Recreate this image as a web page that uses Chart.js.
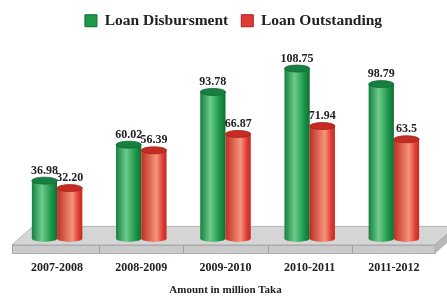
<!DOCTYPE html>
<html>
<head>
<meta charset="utf-8">
<script src="https://cdn.jsdelivr.net/npm/chart.js@4.4.1/dist/chart.umd.min.js"></script>
<style>
html,body{margin:0;padding:0;background:#fff;}
#wrap{width:447px;height:297px;}
</style>
</head>
<body>
<div id="wrap"><canvas id="c" width="447" height="297"></canvas></div>
<script>
const categories = ['2007-2008', '2008-2009', '2009-2010', '2010-2011', '2011-2012'];
const disbursement = [36.98, 60.02, 93.78, 108.75, 98.79];
const outstanding = [32.20, 56.39, 66.87, 71.94, 63.5];
const disbursementLabels = ['36.98', '60.02', '93.78', '108.75', '98.79'];
const outstandingLabels = ['32.20', '56.39', '66.87', '71.94', '63.5'];
const seriesNames = ['Loan Disbursment', 'Loan Outstanding'];
const axisTitle = 'Amount in million Taka';

const SERIF = "'Liberation Serif', 'DejaVu Serif', serif";
const palette = [
  {solid:'#1f9a4c', edge:'#0f6e34', dark:'#15803f', light:'#6fcb8c', cap:'#177f3f', capRim:'#0e6a31', legendBorder:'#0d6a30'},
  {solid:'#e03a34', edge:'#bf2e24', dark:'#c9342b', light:'#f5957c', cap:'#c42c22', capRim:'#a32018', legendBorder:'#a52020'}
];
const valueLabels = [disbursementLabels, outstandingLabels];

const cylinderPlugin = {
  id: 'cylinders',
  afterLayout(chart) {
    // nudge legend to the right to match the reference
    if (chart.legend) {
      chart.legend.left += 8;
      chart.legend.right += 8;
    }
  },
  beforeDatasetsDraw(chart) {
    const ctx = chart.ctx;
    const xs = chart.scales.x, ys = chart.scales.y;
    const base = ys.getPixelForValue(0);
    const left = chart.chartArea.left - 3, right = chart.chartArea.right - 1;
    const frontY = base + 6.5, backY = base - 12, slab = 8, dx = 21;
    ctx.save();
    // top face of floor
    ctx.beginPath();
    ctx.moveTo(left, frontY);
    ctx.lineTo(right, frontY);
    ctx.lineTo(right + dx, backY);
    ctx.lineTo(left + dx, backY);
    ctx.closePath();
    ctx.fillStyle = '#d5d5d5';
    ctx.fill();
    ctx.strokeStyle = '#b4b4b4';
    ctx.lineWidth = 1;
    ctx.stroke();
    // front slab
    ctx.fillStyle = '#cacaca';
    ctx.fillRect(left, frontY, right - left, slab);
    ctx.strokeStyle = '#a8a8a8';
    ctx.strokeRect(left + 0.5, frontY + 0.5, right - left, slab);
    // right side
    ctx.beginPath();
    ctx.moveTo(right, frontY);
    ctx.lineTo(right + dx, backY);
    ctx.lineTo(right + dx, backY + slab);
    ctx.lineTo(right, frontY + slab);
    ctx.closePath();
    ctx.fillStyle = '#b8b8b8';
    ctx.fill();
    ctx.stroke();
    // category dividers on slab
    ctx.strokeStyle = '#a0a0a0';
    for (let i = 0; i < categories.length - 1; i++) {
      const bx = Math.round((xs.getPixelForValue(i) + xs.getPixelForValue(i + 1)) / 2) + 0.5;
      ctx.beginPath();
      ctx.moveTo(bx, frontY + 1);
      ctx.lineTo(bx, frontY + slab);
      ctx.stroke();
    }
    // cylinders
    chart.data.datasets.forEach((ds, di) => {
      const meta = chart.getDatasetMeta(di);
      const p = palette[di];
      meta.data.forEach((el) => {
        const w = el.width, x0 = el.x - w / 2, x1 = el.x + w / 2;
        const ry = 3.5;
        const g = ctx.createLinearGradient(x0, 0, x1, 0);
        if (di === 0) {
          g.addColorStop(0, p.dark);
          g.addColorStop(0.4, p.light);
          g.addColorStop(0.75, p.solid);
          g.addColorStop(1, p.edge);
        } else {
          g.addColorStop(0, p.edge);
          g.addColorStop(0.6, p.light);
          g.addColorStop(0.85, p.solid);
          g.addColorStop(1, p.edge);
        }
        ctx.fillStyle = g;
        ctx.beginPath();
        ctx.ellipse(el.x, el.base, w / 2, ry, 0, 0, Math.PI * 2);
        ctx.fill();
        ctx.fillRect(x0, el.y, w, el.base - el.y);
        ctx.beginPath();
        ctx.ellipse(el.x, el.y, w / 2, ry, 0, 0, Math.PI * 2);
        ctx.fillStyle = p.cap;
        ctx.fill();
        ctx.strokeStyle = p.capRim;
        ctx.lineWidth = 0.8;
        ctx.stroke();
      });
    });
    ctx.restore();
  },
  afterDatasetsDraw(chart) {
    const ctx = chart.ctx;
    ctx.save();
    ctx.font = 'bold 12px ' + SERIF;
    ctx.fillStyle = '#222';
    ctx.textAlign = 'center';
    ctx.textBaseline = 'bottom';
    chart.data.datasets.forEach((ds, di) => {
      const meta = chart.getDatasetMeta(di);
      meta.data.forEach((el, i) => {
        ctx.fillText(valueLabels[di][i], el.x, el.y - 4);
      });
    });
    ctx.restore();
  }
};

new Chart(document.getElementById('c'), {
  type: 'bar',
  data: {
    labels: categories,
    datasets: [
      {label: seriesNames[0], data: disbursement, backgroundColor: 'rgba(0,0,0,0)', borderWidth: 0},
      {label: seriesNames[1], data: outstanding, backgroundColor: 'rgba(0,0,0,0)', borderWidth: 0}
    ]
  },
  options: {
    responsive: false,
    animation: false,
    devicePixelRatio: 1,
    layout: {padding: {left: 15, right: 11, top: 0, bottom: 0}},
    datasets: {bar: {categoryPercentage: 0.6, barPercentage: 1}},
    plugins: {
      tooltip: {enabled: false},
      legend: {
        position: 'top',
        labels: {
          font: {family: SERIF, size: 15.5, weight: 'bold'},
          color: '#222',
          boxWidth: 12,
          boxHeight: 12,
          padding: 13,
          generateLabels: (chart) => chart.data.datasets.map((ds, i) => ({
            text: ds.label,
            fillStyle: palette[i].solid,
            strokeStyle: palette[i].legendBorder,
            lineWidth: 1,
            hidden: false,
            datasetIndex: i,
            fontColor: '#222'
          }))
        }
      }
    },
    scales: {
      x: {
        grid: {display: false, drawTicks: false},
        border: {display: false},
        ticks: {font: {family: SERIF, size: 12, weight: 'bold'}, color: '#222', padding: 22},
        title: {display: true, text: axisTitle, font: {family: SERIF, size: 11, weight: 'bold'}, color: '#222', padding: {top: -13, bottom: 0}}
      },
      y: {
        display: false,
        min: 0,
        max: 128
      }
    }
  },
  plugins: [cylinderPlugin]
});
</script>
</body>
</html>
